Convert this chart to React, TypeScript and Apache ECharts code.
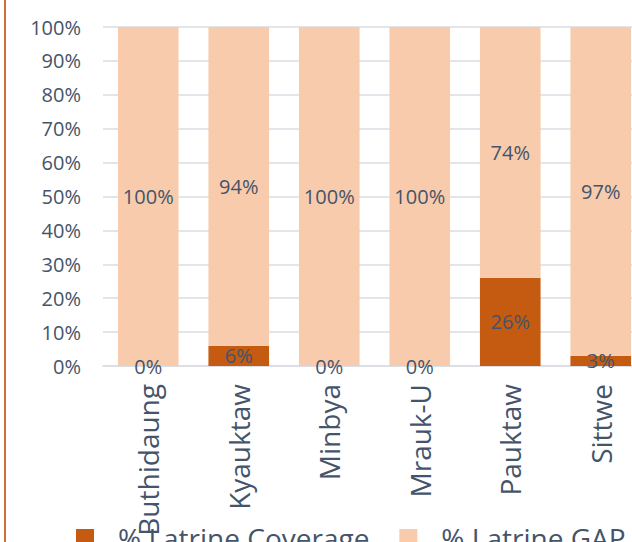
import React, { useEffect, useRef } from "react";
import * as echarts from "echarts";

const categories = ["Buthidaung", "Kyauktaw", "Minbya", "Mrauk-U", "Pauktaw", "Sittwe"];
const coverage = [0, 6, 0, 0, 26, 3];
const gap = [100, 94, 100, 100, 74, 97];
const seriesNames = ["% Latrine Coverage", "% Latrine GAP"];

const TEXT = "#44546A";
const FONT = "Open Sans";

export default function App() {
  const ref = useRef<HTMLDivElement>(null);
  useEffect(() => {
    const chart = echarts.init(ref.current!, null, { renderer: "svg" });
    const label = {
      show: true,
      position: "inside",
      formatter: "{c}%",
      color: TEXT,
      fontFamily: FONT,
      fontSize: 20,
    };
    chart.setOption({
      animation: false,
      backgroundColor: "#ffffff",
      grid: { left: 103, top: 27, width: 543, height: 339 },
      legend: {
        left: 76,
        top: 524,
        padding: 0,
        itemWidth: 18,
        itemHeight: 18,
        itemGap: 30,
        icon: "rect",
        formatter: "{a|{name}}",
        textStyle: {
          color: TEXT,
          fontFamily: FONT,
          fontSize: 28,
          rich: { a: { color: TEXT, fontFamily: FONT, fontSize: 28, padding: [0, 0, 0, 19] } },
        },
        data: seriesNames,
      },
      xAxis: {
        type: "category",
        data: categories,
        axisLine: { lineStyle: { color: "#D9DDE3", width: 1.5 } },
        axisTick: { show: false },
        axisLabel: {
          rotate: 90,
          margin: 18,
          color: TEXT,
          fontFamily: FONT,
          fontSize: 28,
          interval: 0,
        },
      },
      yAxis: {
        type: "value",
        min: 0,
        max: 100,
        interval: 10,
        axisLine: { show: false },
        axisTick: { show: false },
        splitLine: { lineStyle: { color: "#D9DDE3", width: 1.5 } },
        axisLabel: {
          formatter: "{value}%",
          margin: 22,
          color: TEXT,
          fontFamily: FONT,
          fontSize: 20,
        },
      },
      series: [
        {
          name: seriesNames[0],
          type: "bar",
          stack: "total",
          data: coverage,
          barCategoryGap: "33%",
          itemStyle: { color: "#C55A11" },
          label,
        },
        {
          name: seriesNames[1],
          type: "bar",
          stack: "total",
          data: gap,
          barCategoryGap: "33%",
          itemStyle: { color: "#F8CBAD" },
          label,
        },
      ],
      graphic: [
        {
          type: "rect",
          left: 4,
          top: 0,
          shape: { width: 2, height: 542 },
          style: { fill: "#D0722F" },
        },
      ],
    });
    return () => chart.dispose();
  }, []);
  return (
    <div style={{ position: "fixed", left: 0, top: 0, width: 632, height: 542, overflow: "hidden" }}>
      <div ref={ref} style={{ width: 660, height: 542 }} />
    </div>
  );
}
